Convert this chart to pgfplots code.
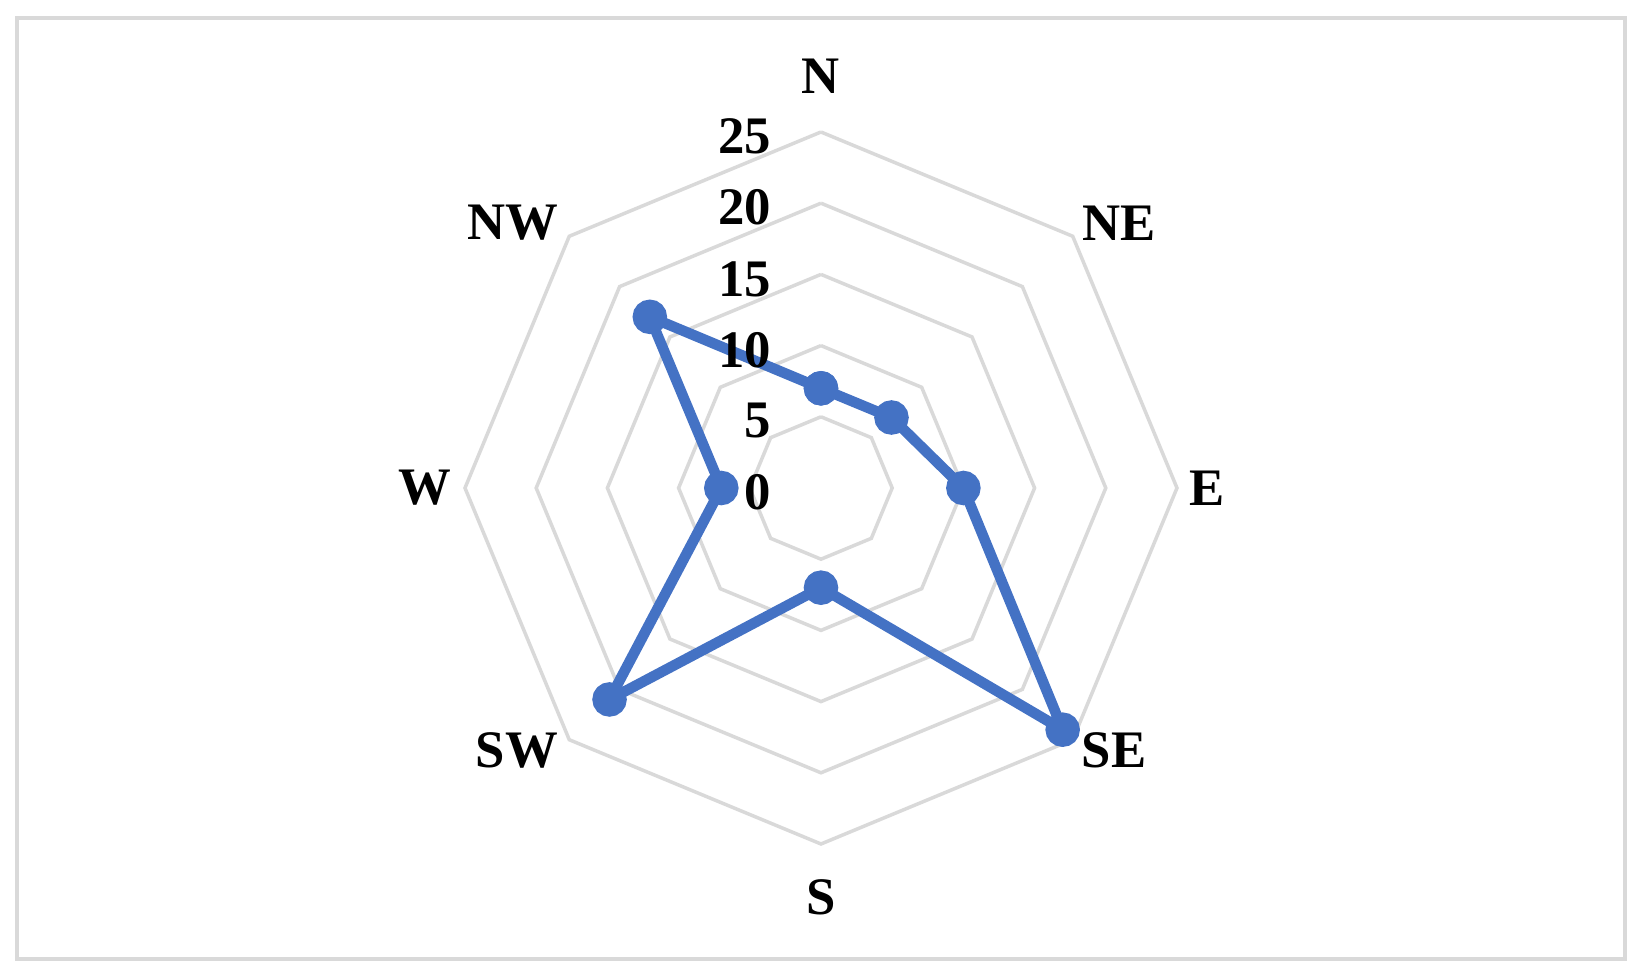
\documentclass[border=0pt]{standalone}
\usepackage{fontspec}
\setmainfont{Liberation Serif}
\usepackage{pgfplots}
\pgfplotsset{compat=1.18}
\usepgfplotslibrary{polar}
\definecolor{gridgray}{HTML}{D9D9D9}
\definecolor{serblue}{HTML}{4472C4}
\begin{document}
\begin{tikzpicture}
\path[use as bounding box] (-8.21,-4.88) rectangle (8.21,4.88);
\draw[gridgray,line width=0.9pt] (-8.04,-4.71) rectangle (8.04,4.70);
\begin{polaraxis}[
    at={(0,0)},anchor=origin,
    width=7.12cm,height=7.12cm,scale only axis,
    ymin=0,ymax=25,
    hide axis,clip=false,
]
    % octagon rings
    \foreach \r in {5,10,15,20,25}{
        \addplot[gridgray,line width=1pt] coordinates
        {(90,\r)(45,\r)(0,\r)(-45,\r)(-90,\r)(-135,\r)(-180,\r)(-225,\r)(-270,\r)};
    }
    % wind directions N, NE, E, SE, S, SW, W, NW
    \addplot[serblue,line width=3pt,mark=*,mark size=3.4pt,
        mark options={solid,fill=serblue}] coordinates
    {(90,7)(45,7)(0,10)(-45,24)(-90,7)(-135,21)(-180,7)(-225,17)(-270,7)};
\end{polaraxis}
\begin{scope}[every node/.style={font=\fontsize{15}{18}\selectfont\bfseries}]
    \node at (0,4.12) {N};
    \node at (2.98,2.65) {NE};
    \node at (3.86,0) {E};
    \node at (2.93,-2.62) {SE};
    \node at (0,-4.09) {S};
    \node at (-3.04,-2.62) {SW};
    \node at (-3.96,0) {W};
    \node at (-3.08,2.65) {NW};
    \node[anchor=east,inner xsep=0pt] at (-0.49,3.52) {25};
    \node[anchor=east,inner xsep=0pt] at (-0.49,2.81) {20};
    \node[anchor=east,inner xsep=0pt] at (-0.49,2.09) {15};
    \node[anchor=east,inner xsep=0pt] at (-0.49,1.38) {10};
    \node[anchor=east,inner xsep=0pt] at (-0.49,0.67) {5};
    \node[anchor=east,inner xsep=0pt] at (-0.49,-0.04) {0};
\end{scope}
\end{tikzpicture}
\end{document}
